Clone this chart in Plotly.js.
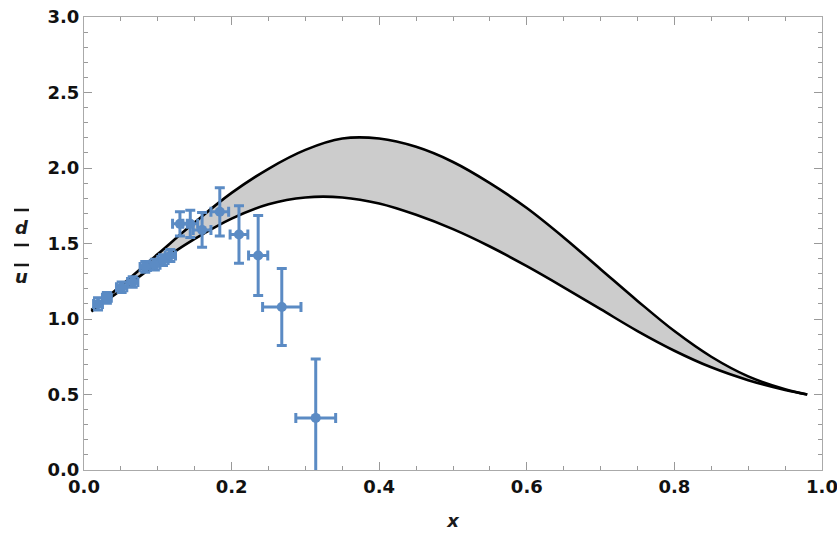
<!DOCTYPE html>
<html><head><meta charset="utf-8">
<script src="https://cdn.plot.ly/plotly-3.0.1.min.js"></script>
<style>html,body{margin:0;padding:0;background:#fff}#plot{width:837px;height:544px}</style>
</head><body><div id="plot"></div>
<script>
// Band curves
const bandX  = [0.01,0.05,0.1,0.15,0.2,0.25,0.3,0.35,0.4,0.45,0.5,0.55,0.6,0.65,0.7,0.75,0.8,0.85,0.9,0.95,0.98];
const upperY = [1.06,1.22,1.43,1.64,1.835,1.995,2.12,2.195,2.195,2.14,2.04,1.90,1.735,1.54,1.33,1.12,0.92,0.75,0.62,0.535,0.50];
const lowerY = [1.05,1.19,1.37,1.53,1.665,1.76,1.805,1.805,1.765,1.69,1.595,1.48,1.35,1.21,1.065,0.92,0.79,0.68,0.595,0.53,0.50];

// Data points
const dataX  = [0.019,0.031,0.051,0.066,0.083,0.096,0.107,0.117,0.13,0.144,0.16,0.184,0.21,0.236,0.268,0.314];
const dataY  = [1.10,1.14,1.21,1.245,1.345,1.36,1.39,1.42,1.63,1.63,1.59,1.71,1.56,1.42,1.08,0.345];
const errY   = [0.04,0.035,0.035,0.035,0.035,0.035,0.035,0.04,0.08,0.09,0.115,0.16,0.19,0.265,0.255,0.39];
const errX   = [0.006,0.006,0.007,0.007,0.007,0.007,0.007,0.007,0.01,0.01,0.012,0.012,0.012,0.013,0.026,0.027];

const xTickVals = [0,0.2,0.4,0.6,0.8,1.0];
const yTickVals = [0,0.5,1.0,1.5,2.0,2.5,3.0];

const blue = '#5b8bc4';
const traces = [
  {x: bandX, y: lowerY, mode:'lines', line:{color:'#000', width:2.6, shape:'spline'}, hoverinfo:'skip'},
  {x: bandX, y: upperY, mode:'lines', fill:'tonexty', fillcolor:'#cccccc', line:{color:'#000', width:2.6, shape:'spline'}, hoverinfo:'skip'},
  {x: dataX, y: dataY, mode:'markers', marker:{color:blue, size:10},
   error_y:{type:'data', array:errY, visible:true, color:blue, thickness:3, width:5},
   error_x:{type:'data', array:errX, visible:true, color:blue, thickness:3, width:5}}
];

const fam = 'DejaVu Sans, sans-serif';
const tickFont = {family:fam, size:18, color:'#111', weight:'bold'};
const labFont = {family:fam, size:18, color:'#1a1a1a'};
const bar = (py) => ({type:'line', xref:'paper', yref:'paper',
  x0:(14-84)/738, x1:(29-84)/738, y0:(470-py)/453, y1:(470-py)/453,
  line:{color:'#1a1a1a', width:2.5}});
const layout = {
  width:837, height:544, showlegend:false,
  paper_bgcolor:'#fff', plot_bgcolor:'#fff',
  margin:{l:84, r:15, t:17, b:74},
  xaxis:{range:[0,1], tickvals:xTickVals, ticktext:xTickVals.map(v=>v.toFixed(1)),
    ticks:'inside', ticklen:8, tickwidth:1, tickcolor:'#999', ticklabeloverflow:'allow',
    minor:{dtick:0.05, ticks:'inside', ticklen:4, tickcolor:'#999'},
    showline:true, linecolor:'#aaa', linewidth:1, mirror:'allticks',
    showgrid:false, zeroline:false, tickfont:tickFont,
    title:{text:'<b><i>x</i></b>', font:labFont, standoff:18}},
  yaxis:{range:[0,3], tickvals:yTickVals, ticktext:yTickVals.map(v=>v.toFixed(1)),
    ticks:'inside', ticklen:8, tickwidth:1, tickcolor:'#999',
    minor:{dtick:0.1, ticks:'inside', ticklen:4, tickcolor:'#999'},
    showline:true, linecolor:'#aaa', linewidth:1, mirror:'allticks',
    showgrid:false, zeroline:false, tickfont:tickFont},
  shapes:[bar(210), bar(245), bar(265)],
  annotations:[
    {xref:'paper', yref:'paper', x:(21.5-84)/738, y:(470-227)/453, xanchor:'center', yanchor:'middle', showarrow:false,
     text:'<b><i>d</i></b>', font:labFont},
    {xref:'paper', yref:'paper', x:(21.5-84)/738, y:(470-276)/453, xanchor:'center', yanchor:'middle', showarrow:false,
     text:'<b><i>u</i></b>', font:labFont}]
};
Plotly.newPlot('plot', traces, layout, {displayModeBar:false, staticPlot:true});
</script></body></html>
